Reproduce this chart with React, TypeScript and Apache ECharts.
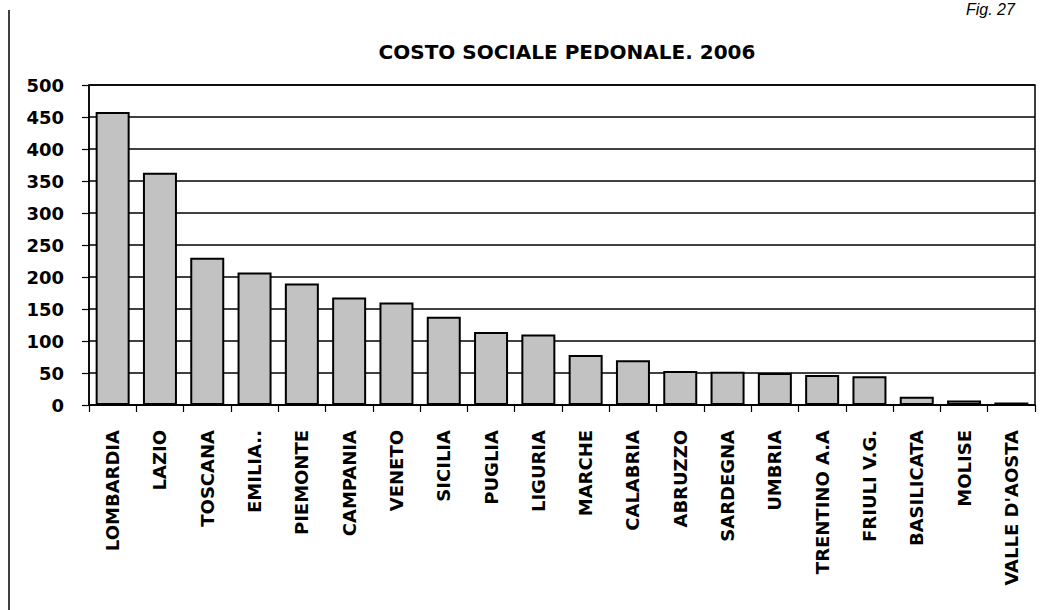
import React, { useEffect, useRef } from "react";
import * as echarts from "echarts";

const titleText = "COSTO SOCIALE PEDONALE. 2006";
const figLabel = "Fig. 27";
const regions = [
  "LOMBARDIA", "LAZIO", "TOSCANA", "EMILIA..", "PIEMONTE", "CAMPANIA", "VENETO",
  "SICILIA", "PUGLIA", "LIGURIA", "MARCHE", "CALABRIA", "ABRUZZO", "SARDEGNA",
  "UMBRIA", "TRENTINO A.A", "FRIULI V.G.", "BASILICATA", "MOLISE", "VALLE D'AOSTA",
];
const costs = [458, 363, 230, 207, 190, 168, 160, 138, 114, 110, 78, 70, 53, 52, 50, 47, 45, 13, 7, 4];

const FONT = "'DejaVu Sans', sans-serif";

export default function App() {
  const ref = useRef<HTMLDivElement>(null);
  useEffect(() => {
    if (!ref.current) return;
    const chart = echarts.init(ref.current, null, { renderer: "svg" });
    chart.setOption({
      animation: false,
      backgroundColor: "#ffffff",
      title: {
        text: titleText,
        left: 562,
        top: 37,
        textAlign: "center",
        textStyle: { fontFamily: FONT, fontWeight: "bold", fontSize: 20, color: "#000" },
      },
      graphic: [
        {
          type: "line",
          shape: { x1: 9, y1: 10, x2: 9, y2: 610 },
          style: { stroke: "#000", lineWidth: 1.5 },
        },
        {
          type: "text",
          x: 966,
          y: 1,
          style: {
            text: figLabel,
            fontFamily: "'Liberation Sans', Arial, sans-serif",
            fontStyle: "italic",
            fontSize: 16,
            fill: "#000",
            textVerticalAlign: "top",
          },
        },
      ],
      grid: {
        left: 89,
        right: 5,
        top: 85,
        bottom: 205,
        show: true,
        borderColor: "#000",
        borderWidth: 1.5,
      },
      xAxis: {
        type: "category",
        data: regions,
        axisLine: { show: true, lineStyle: { color: "#000", width: 1.5 } },
        axisTick: { show: true, length: 7, lineStyle: { color: "#000", width: 1.2 } },
        axisLabel: {
          rotate: 90,
          interval: 0,
          margin: 25,
          color: "#000",
          fontFamily: FONT,
          fontWeight: "bold",
          fontSize: 18,
        },
      },
      yAxis: {
        type: "value",
        min: 0,
        max: 500,
        interval: 50,
        axisLine: { show: true, lineStyle: { color: "#000", width: 1.5 } },
        axisTick: { show: true, length: 7, lineStyle: { color: "#000", width: 1.2 } },
        splitLine: { show: true, lineStyle: { color: "#000", width: 1.5 } },
        axisLabel: {
          margin: 25,
          color: "#000",
          fontFamily: FONT,
          fontWeight: "bold",
          fontSize: 18,
        },
      },
      series: [
        {
          type: "bar",
          data: costs,
          barWidth: 34,
          itemStyle: { color: "#c2c2c2", borderColor: "#000", borderWidth: 2 },
        },
      ],
    });
    return () => chart.dispose();
  }, []);
  return (
    <div
      ref={ref}
      style={{ position: "fixed", left: 0, top: 0, width: 1040, height: 610 }}
    />
  );
}
